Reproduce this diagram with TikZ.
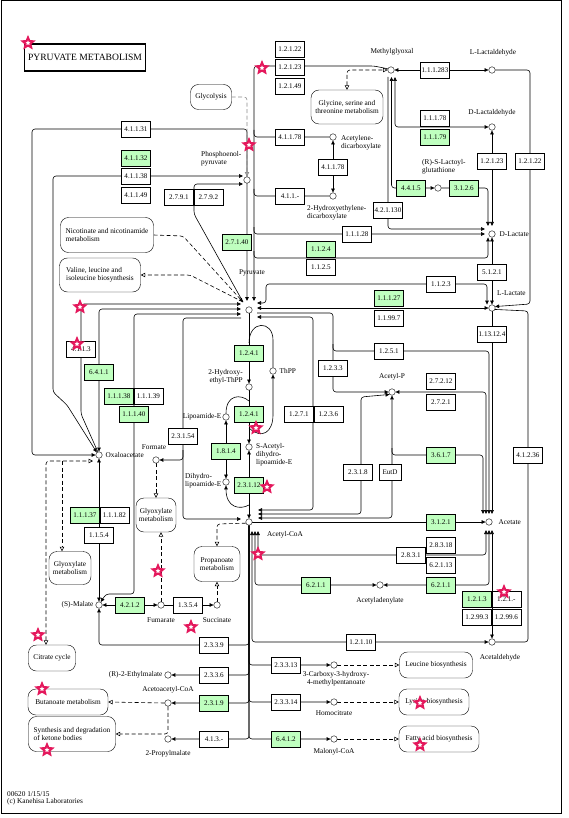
\documentclass[tikz,border=0pt]{standalone}
\usepackage{fontspec}
\setmainfont{Liberation Serif}
\usetikzlibrary{positioning,arrows.meta,shapes.geometric,backgrounds}

\definecolor{keggreen}{RGB}{191,255,191}
\definecolor{starred}{RGB}{228,24,92}

\tikzset{
  enz/.style={draw, rectangle, minimum width=29pt, minimum height=16pt, inner sep=0pt, fill=white, font=\fontsize{7.1}{7.5}\selectfont},
  genz/.style={enz, fill=keggreen},
  cpd/.style={draw, circle, minimum size=6.5pt, inner sep=0pt, fill=white},
  lbl/.style={font=\fontsize{7.3}{7.9}\selectfont, align=center, inner sep=0pt},
  pmap/.style={draw, rounded corners=8pt, fill=white, font=\fontsize{7.3}{8.3}\selectfont, align=center, inner sep=2pt},
  kstar/.style={star, star points=5, star point ratio=2.2, minimum size=11pt, inner sep=0pt, draw=starred, line width=2pt, fill=white},
  rxn/.style={line width=0.6pt, rounded corners=3pt},
  dsh/.style={rxn, dash pattern=on 4pt off 2.5pt},
  opn/.style={-{Triangle[open,length=4.5pt,width=4.5pt]}},
  opn2/.style={{Triangle[open,length=4.5pt,width=4.5pt]}-{Triangle[open,length=4.5pt,width=4.5pt]}},
  >={Triangle[length=4pt,width=3.6pt]}
}

\begin{document}
\begin{tikzpicture}[x=1pt,y=-1pt]
\useasboundingbox (0,0) rectangle (568,818);

% title and footer
\node[draw, line width=1.5pt, fill=white, minimum width=121pt, minimum height=27pt, inner sep=0pt, font=\fontsize{9.6}{10}\selectfont] (title) at (85,57.5) {PYRUVATE METABOLISM};
\node[lbl, align=left, anchor=north west] (foot) at (7,791) {00620 1/15/15\\(c) Kanehisa Laboratories};

% compounds
\node[cpd] (mg) at (391,70) {};
\node[cpd] (llald) at (492,70) {};
\node[cpd] (dlald) at (492,127) {};
\node[cpd] (lgsh) at (438,188) {};
\node[cpd] (dlac) at (492,234) {};
\node[cpd] (llac) at (492,308) {};
\node[cpd] (acp) at (392,392) {};
\node[cpd] (ac) at (489,522) {};
\node[cpd] (acad) at (380,585) {};
\node[cpd] (aald) at (492,642) {};
\node[cpd] (pyr) at (249,310) {};
\node[cpd] (pep) at (247,180) {};
\node[cpd] (acdc) at (333,137) {};
\node[cpd] (hedc) at (333,196) {};
\node[cpd] (hethpp) at (249,387) {};
\node[cpd] (thpp) at (273,371) {};
\node[cpd] (lipe) at (226,417) {};
\node[cpd] (sacl) at (249,447) {};
\node[cpd] (dhle) at (226,482) {};
\node[cpd] (accoa) at (249,522) {};
\node[cpd] (oaa) at (99,455) {};
\node[cpd] (form) at (156,460) {};
\node[cpd] (mal) at (99,605) {};
\node[cpd] (fum) at (161,605) {};
\node[cpd] (succ) at (217,605) {};
\node[cpd] (etm) at (168,675) {};
\node[cpd] (aacoa) at (168,703) {};
\node[cpd] (prm) at (168,739) {};
\node[cpd] (chmp) at (334,665) {};
\node[cpd] (hcit) at (334,702) {};
\node[cpd] (malcoa) at (334,739) {};

% compound names
\node[lbl] (tmg) at (392,52) {Methylglyoxal};
\node[lbl] (tllald) at (493,53) {L-Lactaldehyde};
\node[lbl] (tdlald) at (492,113) {D-Lactaldehyde};
\node[lbl, align=left, anchor=west] (tlgsh) at (422,167) {(R)-S-Lactoyl-\\glutathione};
\node[lbl, right=4pt of dlac] (tdlac) {D-Lactate};
\node[lbl, anchor=west] (tllac) at (497,293) {L-Lactate};
\node[lbl, above=8pt of acp] (tacp) {Acetyl-P};
\node[lbl, right=6pt of ac] (tac) {Acetate};
\node[lbl, below=9pt of acad] (tacad) {Acetyladenylate};
\node[lbl] (taald) at (500,658) {Acetaldehyde};
\node[lbl] (tpyr) at (252,273) {Pyruvate};
\node[lbl, align=left, anchor=west] (tpep) at (201,159) {Phosphoenol-\\pyruvate};
\node[lbl, align=left, anchor=west] (tacdc) at (341,143) {Acetylene-\\dicarboxylate};
\node[lbl, align=left, anchor=west] (thedc) at (307,213) {2-Hydroxyethylene-\\dicarboxylate};
\node[lbl, align=right, anchor=east] (thethpp) at (243,377) {2-Hydroxy-\\ethyl-ThPP};
\node[lbl, right=3pt of thpp] (tthpp) {ThPP};
\node[lbl, left=1pt of lipe] (tlipe) {Lipoamide-E};
\node[lbl, align=left, anchor=west] (tsacl) at (256,455) {S-Acetyl-\\dihydro-\\lipoamide-E};
\node[lbl, align=left, anchor=west] (tdhle) at (185,481) {Dihydro-\\lipoamide-E};
\node[lbl] (taccoa) at (285,535) {Acetyl-CoA};
\node[lbl, right=3pt of oaa] (toaa) {Oxaloacetate};
\node[lbl] (tform) at (154,447) {Formate};
\node[lbl, left=2pt of mal] (tmal) {(S)-Malate};
\node[lbl, below=9pt of fum] (tfum) {Fumarate};
\node[lbl, below=9pt of succ] (tsucc) {Succinate};
\node[lbl, left=2pt of etm] (tetm) {(R)-2-Ethylmalate};
\node[lbl, above=6pt of aacoa] (taacoa) {Acetoacetyl-CoA};
\node[lbl, below=8pt of prm] (tprm) {2-Propylmalate};
\node[lbl] (tchmp) at (336,679) {3-Carboxy-3-hydroxy-\\4-methylpentanoate};
\node[lbl, below=5pt of hcit] (thcit) {Homocitrate};
\node[lbl, below=6pt of malcoa] (tmalcoa) {Malonyl-CoA};

% pathway maps
\node[pmap, minimum width=41pt, minimum height=25pt] (glyc) at (211,97) {Glycolysis};
\node[pmap, minimum width=72pt, minimum height=34pt] (gsm) at (347,107) {Glycine, serine and\\threonine metabolism};
\node[pmap, align=left, minimum width=93pt, minimum height=35pt] (nic) at (107,235) {Nicotinate and nicotinamide\\metabolism};
\node[pmap, align=left, minimum width=81pt, minimum height=34pt] (val) at (100,275) {Valine, leucine and\\isoleucine biosynthesis};
\node[pmap, minimum width=42pt, minimum height=33pt] (glx1) at (70,568) {Glyoxylate\\metabolism};
\node[pmap, minimum width=40pt, minimum height=34pt] (glx2) at (156,515) {Glyoxylate\\metabolism};
\node[pmap, minimum width=46pt, minimum height=35pt] (prop) at (217,564) {Propanoate\\metabolism};
\node[pmap, minimum width=47pt, minimum height=26pt] (tca) at (52,658) {Citrate cycle};
\node[pmap, minimum width=80pt, minimum height=26pt] (but) at (68,702) {Butanoate metabolism};
\node[pmap, align=left, minimum width=87pt, minimum height=35pt] (ket) at (72,734) {Synthesis and degradation\\of ketone bodies};
\node[pmap, minimum width=73pt, minimum height=26pt] (leu) at (436,665) {Leucine biosynthesis};
\node[pmap, minimum width=70pt, minimum height=26pt] (lys) at (434,702) {Lysine biosynthesis};
\node[pmap, minimum width=80pt, minimum height=26pt] (fab) at (439,739) {Fatty acid biosynthesis};

% enzymes
\node[enz] (ec12122a) at (290,49) {1.2.1.22};
\node[enz, below=2pt of ec12122a] (ec12123a) {1.2.1.23};
\node[enz, below=2pt of ec12123a] (ec12149) {1.2.1.49};
\node[enz] (ec41131) at (136,129) {4.1.1.31};
\node[genz] (ec41132) at (136,158) {4.1.1.32};
\node[enz, below=2pt of ec41132] (ec41138) {4.1.1.38};
\node[enz, below=2pt of ec41138] (ec41149) {4.1.1.49};
\node[enz] (ec2791) at (179,197) {2.7.9.1};
\node[enz, right=0pt of ec2791] (ec2792) {2.7.9.2};
\node[enz] (ec41178a) at (290,137) {4.1.1.78};
\node[enz] (ec41178b) at (333,167) {4.1.1.78};
\node[enz] (ec411x) at (290,196) {4.1.1.-};
\node[genz] (ec27140) at (237,242) {2.7.1.40};
\node[enz] (ec11128) at (357,234) {1.1.1.28};
\node[genz] (ec1124) at (321,249) {1.1.2.4};
\node[enz, below=2pt of ec1124] (ec1125) {1.1.2.5};
\node[enz] (ec1123) at (441,284) {1.1.2.3};
\node[genz] (ec11127) at (389,298) {1.1.1.27};
\node[enz] (ec111997) at (389,318) {1.1.99.7};
\node[enz] (ec1251) at (389,351) {1.2.5.1};
\node[enz] (ec1233) at (333,368) {1.2.3.3};
\node[enz] (ec27212) at (441,381) {2.7.2.12};
\node[enz] (ec2721) at (441,402) {2.7.2.1};
\node[enz] (ec111283) at (435,70) {1.1.1.283};
\node[enz] (ec11178) at (435,118) {1.1.1.78};
\node[genz] (ec11179) at (435,137) {1.1.1.79};
\node[enz] (ec12123b) at (492,161) {1.2.1.23};
\node[enz] (ec12122b) at (530,161) {1.2.1.22};
\node[genz] (ec4415) at (411,188) {4.4.1.5};
\node[genz] (ec3126) at (464,188) {3.1.2.6};
\node[enz] (ec421130) at (388,210) {4.2.1.130};
\node[enz] (ec5121) at (492,272) {5.1.2.1};
\node[enz] (ec113124) at (492,334) {1.13.12.4};
\node[enz] (ec4113) at (81,349) {4.1.1.3};
\node[genz] (ec6411) at (99,372) {6.4.1.1};
\node[genz] (ec11138) at (119,396) {1.1.1.38};
\node[enz, right=0pt of ec11138] (ec11139) {1.1.1.39};
\node[genz] (ec11140) at (134,414) {1.1.1.40};
\node[enz] (ec23154) at (183,436) {2.3.1.54};
\node[genz] (ec1241a) at (249,353) {1.2.4.1};
\node[genz] (ec1241b) at (249,414) {1.2.4.1};
\node[genz] (ec1814) at (226,451) {1.8.1.4};
\node[genz] (ec23112) at (249,485) {2.3.1.12};
\node[enz] (ec1271) at (299,414) {1.2.7.1};
\node[enz, right=0pt of ec1271] (ec1236) {1.2.3.6};
\node[enz] (ec2318) at (358,472) {2.3.1.8};
\node[enz, minimum width=22pt] (eceutd) at (390,472) {EutD};
\node[genz] (ec3617) at (441,455) {3.6.1.7};
\node[enz] (ec41236) at (528,455) {4.1.2.36};
\node[genz] (ec3121) at (441,522) {3.1.2.1};
\node[enz] (ec28318) at (441,545) {2.8.3.18};
\node[enz] (ec2831) at (411,555) {2.8.3.1};
\node[enz] (ec62113) at (441,565) {6.2.1.13};
\node[genz] (ec6211a) at (316,585) {6.2.1.1};
\node[genz] (ec6211b) at (441,585) {6.2.1.1};
\node[genz] (ec1213) at (477,599) {1.2.1.3};
\node[enz, right=0pt of ec1213] (ec121x) {1.2.1.-};
\node[enz, below=2pt of ec1213] (ec12993) {1.2.99.3};
\node[enz, right=0pt of ec12993] (ec12996) {1.2.99.6};
\node[enz] (ec12110) at (361,642) {1.2.1.10};
\node[genz] (ec11137) at (85,515) {1.1.1.37};
\node[enz, right=0pt of ec11137] (ec11182) {1.1.1.82};
\node[enz] (ec1154) at (99,535) {1.1.5.4};
\node[genz] (ec4212) at (130,605) {4.2.1.2};
\node[enz] (ec1354) at (188,605) {1.3.5.4};
\node[enz] (ec2339) at (214,645) {2.3.3.9};
\node[enz] (ec2336) at (214,675) {2.3.3.6};
\node[genz] (ec2319) at (214,703) {2.3.1.9};
\node[enz] (ec413x) at (214,739) {4.1.3.-};
\node[enz] (ec23313) at (286,665) {2.3.3.13};
\node[enz] (ec23314) at (286,702) {2.3.3.14};
\node[genz] (ec6412) at (286,739) {6.4.1.2};

% end points round the busy compounds
\coordinate (pyrL) at (241,310);
\coordinate (pyrR) at (257,310);
\coordinate (pyrT) at (249,301);
\coordinate (pyrNW) at (243,302);
\coordinate (pepL) at (243,180);
\coordinate (mgB) at (391,77);
\coordinate (dlT) at (492,226);
\coordinate (dlL) at (485,234);
\coordinate (acT) at (489,514);
\coordinate (acB) at (489,530);
\coordinate (acoR) at (258,522);
\coordinate (acoL) at (241,522);
\coordinate (acoB) at (249,531);
\coordinate (oaaL) at (93,455);

\begin{scope}[on background layer]
\draw[line width=1pt] (1,1) rectangle (561,813);
% pyruvate, top
\draw[rxn,->] (mg.160) -- (374,66) -- (254,66) -- (254,0 |- pyrT);
\draw[rxn,->] (pep.north) -- (247,129) -- (32,129) -- (32,455) -- (oaa.west);
\draw[dsh,opn,draw=black!45] (glyc.east) -- (247,97) -- (pep.north);
\draw[line width=1.5pt, draw=black!30, -{Triangle[length=4pt,width=3.6pt,color=black]}] (pep.south) -- (247,0 |- pyrT);
\draw[rxn] (254,130) -- (254,137) -- (acdc.west);
\draw[rxn,<->] (acdc.south) -- (hedc.north);
\draw[rxn] (254,189) -- (254,196) -- (hedc.west);
\draw[rxn,->] (254,227) -- (254,234) -- (dlL);
\draw[rxn,->] (254,251) -- (254,258) -- (488,258) -- (488,0 |- dlac.south);
% pyruvate, left
\draw[rxn,<->] (pepL |- 0,176) -- (53,176) -- (53,392) -- (67,405) -- (oaa.130);
\draw[rxn,<-] (pepL |- 0,184) -- (194,184) -- (194,214) -- (pyrNW);
\draw[rxn,->] (oaa.110) -- (81,414) -- (81,304) -- (pyrL |- 0,304);
\draw[rxn,<->] (pyrL |- 0,309) -- (99,309) -- (oaa.north);
\draw[rxn,<->] (pyrL |- 0,314) -- (134,314) -- (134,594) -- (106,594) -- (mal.60);
\draw[rxn,->] (pyrL |- 0,318) -- (183,318) -- (183,519) -- (acoL |- 0,519);
\draw[rxn,->] (183,450) -- (183,460) -- (form.east);
\draw[dsh,->] (nic.east) -- (183,236) -- (pyrNW);
\draw[dsh,opn] (pyrNW) -- (190,275) -- (val.east);
% pyruvate, right
\draw[rxn,<->] (pyrR |- 0,303) -- (266,303) -- (266,284) -- (487,284) -- (487,0 |- llac.north);
\draw[rxn,<->] (pyrR |- 0,308) -- (llac.west);
\draw[rxn,->] (pyrR |- 0,313) -- (333,313) -- (333,392) -- (acp.west);
\draw[rxn,->] (333,344) -- (333,351) -- (489,351) -- (489,0 |- acT);
\draw[rxn,<->] (pyrR |- 0,317) -- (313,317) -- (313,510) -- (acoR |- 0,510);
% acetyl-P and acetate
\draw[rxn,<->] (acp.east) -- (486,392) -- (486,0 |- acT);
\draw[rxn,<->] (acp.225) -- (361,397) -- (361,514) -- (acoR |- 0,514);
\draw[rxn,<->] (acp.south) -- (392,518) -- (acoR |- 0,518);
\draw[rxn,->] (392,448) -- (392,455) -- (483,455) -- (483,0 |- acT);
\draw[rxn,->] (accoa.east) -- (ac.west);
\draw[rxn,<->] (258,0 |- acoB) -- (258,555) -- (486,555) -- (486,0 |- acB);
\draw[rxn,<->] (255,0 |- acoB) -- (255,585) -- (acad.west);
\draw[rxn,<->] (acad.east) -- (489,585) -- (489,0 |- acB);
\draw[rxn,<->] (aald.north) -- (492,0 |- acB);
\draw[rxn,<->] (252,0 |- acoB) -- (252,642) -- (aald.west);
% acetyl-CoA, down
\draw[rxn,->] (accoa.south) -- (249,645) -- (99,645) -- (mal.south);
\draw[rxn,->] (accoa.south) -- (249,675) -- (etm.east);
\draw[rxn,->] (accoa.south) -- (249,703) -- (aacoa.east);
\draw[rxn,->] (accoa.south) -- (249,739) -- (prm.east);
\draw[rxn,->] (accoa.south) -- (249,665) -- (chmp.west);
\draw[rxn,->] (accoa.south) -- (249,702) -- (hcit.west);
\draw[rxn,->] (accoa.south) -- (249,739) -- (malcoa.west);
% links to other maps
\draw[dsh,opn] (aacoa.west) -- (but.east);
\draw[dsh,opn] (aacoa.south) -- (168,734) -- (ket.east);
\draw[dsh,opn] (chmp.east) -- (leu.west);
\draw[dsh,opn] (hcit.east) -- (lys.west);
\draw[dsh,opn] (malcoa.east) -- (fab.west);
\draw[dsh,opn] (succ.north) -- (prop.south);
\draw[dsh,opn] (form.south) -- (glx2.north);
\draw[dsh,opn] (fum.north) -- (fum.north |- glx2.south);
\draw[dsh,opn] (accoa.200) -- (217,524) -- (prop.north);
\draw[dsh,opn2] (46,0 |- tca.north) -- (46,461) -- (oaaL |- 0,461);
\draw[dsh,opn] (62,461) -- (62,0 |- glx1.north);
\draw[dsh,opn2] (gsm.north) -- (347,70) -- (mg.west);
% oxaloacetate and malate
\draw[rxn,<->] (oaa.south) -- (mal.north);
\draw[rxn,<->] (mal.east) -- (fum.west);
\draw[rxn,->] (fum.east) -- (succ.west);
% pyruvate dehydrogenase complex
\draw[rxn,->] (pyr.south) -- (hethpp.north);
\draw[rxn] (249,343) .. controls (249,320) and (273,320) .. (273,343) -- (thpp.north);
\draw[rxn,->] (249,428) .. controls (262,440) and (273,432) .. (273,412) -- (thpp.south);
\draw[rxn,->] (hethpp.south) -- (sacl.north);
\draw[rxn] (lipe.north) .. controls (226,394) and (241,394) .. (249,401);
\draw[rxn,<->] (lipe.south) -- (dhle.north);
\draw[rxn,<-] (dhle.south) .. controls (226,508) and (240,510) .. (249,505);
\draw[rxn,<->] (sacl.south) -- (accoa.north);
% methylglyoxal and lactate
\draw[rxn,<->] (mg.east) -- (llald.west);
\draw[rxn,->] (llald.east) -- (530,70) -- (530,304) -- (llac.25);
\draw[rxn] (llac.-25) -- (528,311) -- (528,642) -- (aald.east);
\draw[rxn,<->] (dlald.west) -- (395,127) -- (395,0 |- mgB);
\draw[rxn,<->] (lgsh.west) -- (391.5,188) -- (391.5,0 |- mgB);
\draw[rxn,->] (388,0 |- mgB) -- (388,229) -- (dlL |- 0,229);
\draw[rxn,->] (lgsh.east) -- (488,188) -- (488,0 |- dlT);
\draw[rxn,<->] (dlald.south) -- (dlT);
\draw[rxn,<->] (dlac.south) -- (llac.north);
\draw[rxn,->] (llac.south) -- (492,0 |- acT);
\end{scope}

% marks
\node[kstar] (st1) at (28,43) {};
\node[kstar] (st2) at (262,68) {};
\node[kstar] (st3) at (249,145) {};
\node[kstar] (st4) at (80,307) {};
\node[kstar] (st5) at (77,344) {};
\node[kstar] (st6) at (256,428) {};
\node[kstar] (st7) at (267,487) {};
\node[kstar] (st8) at (258,554) {};
\node[kstar] (st9) at (158,571) {};
\node[kstar] (st10) at (191,627) {};
\node[kstar] (st11) at (38,635) {};
\node[kstar] (st12) at (42,689) {};
\node[kstar] (st13) at (47,750) {};
\node[kstar] (st14) at (504,592) {};
\node[kstar] (st15) at (420,703) {};
\node[kstar] (st16) at (420,745) {};
\end{tikzpicture}
\end{document}
